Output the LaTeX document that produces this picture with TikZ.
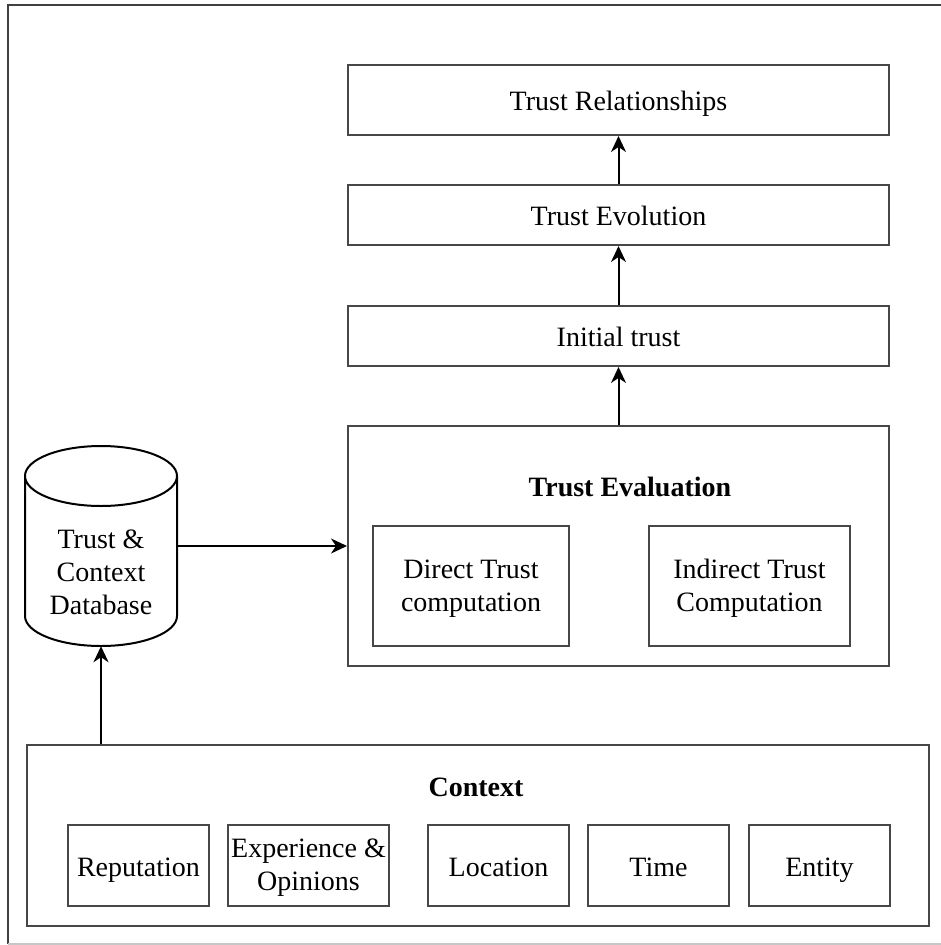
\documentclass[tikz,border=0pt]{standalone}
\usepackage{fontspec}
\setmainfont{Liberation Serif}
\usetikzlibrary{arrows.meta}

\tikzset{
  txt/.style={font=\fontsize{28}{33}\selectfont, text height=27pt, text depth=6pt},
  twoline/.style={text height=56pt, text depth=6pt},
  frame/.style={draw=black!72, line width=2pt},
  box/.style={frame, rectangle, inner sep=0pt, align=center, txt},
  heading/.style={inner sep=0pt, txt, font=\fontsize{28}{33}\selectfont\bfseries},
  label/.style={inner sep=0pt, align=center, txt},
  flow/.style={draw=black, line width=2pt,
    -{Stealth[length=16pt,width=15pt,inset=5pt]}},
}

\begin{document}
\begin{tikzpicture}[x=1pt,y=-1pt]
\useasboundingbox (0,0) rectangle (941,945);

% page border
\draw[black!75, line width=2pt] (941,5) -- (8,5) -- (8,944);
\draw[black!22, line width=1.5pt] (8,944) -- (941,944);

% trust pipeline
\node[box, minimum width=541, minimum height=70] (rel) at (618.5,100) {Trust Relationships};
\node[box, minimum width=541, minimum height=60] (evo) at (618.5,215) {Trust Evolution};
\node[box, minimum width=541, minimum height=60] (init) at (618.5,336) {Initial trust};
\node[box, minimum width=541, minimum height=240] (eval) at (618.5,546) {};
\node[heading] (evalt) at (630,486) {Trust Evaluation};
\node[box, twoline, minimum width=196, minimum height=120] (direct) at (471,586) {Direct Trust\\computation};
\node[box, twoline, minimum width=201, minimum height=120] (indirect) at (749.5,586) {Indirect Trust\\Computation};

% database cylinder
\node[rectangle, inner sep=0pt, minimum width=152, minimum height=200] (db) at (101,546) {};
\draw[black, line width=2pt]
  (25,476) -- (25,616) arc[start angle=180, end angle=0, x radius=76, y radius=30]
  -- (177,476) arc[start angle=0, end angle=-180, x radius=76, y radius=30]
  arc[start angle=180, end angle=0, x radius=76, y radius=30];
\node[label, twoline] (dbt) at (101,589) {Trust \&\\Context\\Database};

% context
\node[box, minimum width=902, minimum height=181] (ctx) at (478,835.5) {};
\node[heading] (ctxt) at (476,786) {Context};
\node[box, minimum width=141, minimum height=81] (rep) at (138.5,865.5) {Reputation};
\node[box, twoline, minimum width=161, minimum height=81] (exp) at (308.5,865.5) {Experience \&\\Opinions};
\node[box, minimum width=141, minimum height=81] (loc) at (498.5,865.5) {Location};
\node[box, minimum width=141, minimum height=81] (time) at (658.5,865.5) {Time};
\node[box, minimum width=141, minimum height=81] (ent) at (819.5,865.5) {Entity};

% connectors
\draw[flow] (init.north) -- (evo.south);
\draw[flow] (evo.north) -- (rel.south);
\draw[flow] (eval.north) -- (init.south);
\draw[flow] (db.east) -- (eval.west);
\draw[flow] (ctx.north -| db.south) -- (db.south);
\end{tikzpicture}
\end{document}
